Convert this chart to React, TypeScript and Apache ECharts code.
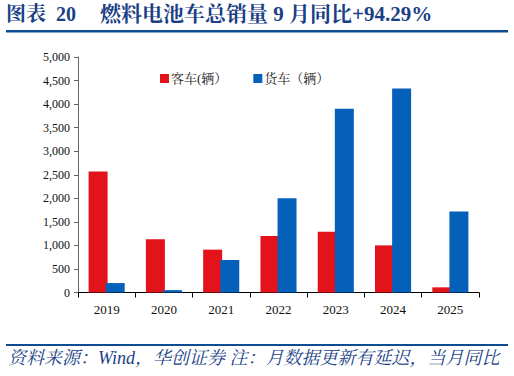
import React, { useEffect, useRef } from "react";
import * as echarts from "echarts";

const categories = ["2019", "2020", "2021", "2022", "2023", "2024", "2025"];
const busValues = [2570, 1130, 910, 1200, 1290, 1000, 110];
const truckValues = [200, 50, 690, 2000, 3900, 4330, 1720];
const seriesNames = ["客车(辆）", "货车（辆）"];
const titleLeft = "图表  20";
const titleRight = "燃料电池车总销量 9 月同比+94.29%";
const footer = "资料来源：Wind，华创证券 注：月数据更新有延迟，当月同比";

const SERIF = "'Times New Roman', 'Liberation Serif', 'Noto Serif CJK SC', 'Noto Sans CJK SC', serif";
const NAVY = "#1A3F86";

export default function App() {
  const ref = useRef<HTMLDivElement>(null);
  useEffect(() => {
    if (!ref.current) return;
    const chart = echarts.init(ref.current, null, { renderer: "svg" });
    chart.setOption({
      animation: false,
      backgroundColor: "#fff",
      grid: { left: 78, right: 35, top: 57, bottom: 83.5 },
      legend: {
        top: 67,
        left: 155,
        itemWidth: 9,
        itemHeight: 9,
        itemGap: 26,
        icon: "rect",
        textStyle: { fontSize: 13, color: "#222", fontFamily: SERIF, padding: [0, 0, 0, -3] },
        data: seriesNames,
      },
      xAxis: {
        type: "category",
        data: categories,
        axisLine: { lineStyle: { color: "#000", width: 1 } },
        axisTick: { show: true, length: 5, lineStyle: { color: "#000" } },
        axisLabel: { fontSize: 13, color: "#111", fontFamily: SERIF, margin: 10 },
      },
      yAxis: {
        type: "value",
        min: 0,
        max: 5000,
        interval: 500,
        axisLine: { show: true, lineStyle: { color: "#666", width: 1 } },
        axisTick: { show: true, length: 4, lineStyle: { color: "#666" } },
        splitLine: { show: false },
        axisLabel: {
          fontSize: 12,
          color: "#111",
          fontFamily: SERIF,
          margin: 8,
          formatter: (v: number) => v.toLocaleString("en-US"),
        },
      },
      series: [
        {
          name: seriesNames[0],
          type: "bar",
          data: busValues,
          barWidth: 19,
          barGap: "-10%",
          itemStyle: { color: "#E3131C" },
        },
        {
          name: seriesNames[1],
          type: "bar",
          data: truckValues,
          barWidth: 19,
          itemStyle: { color: "#0560BA" },
        },
      ],
      graphic: [
        {
          type: "text",
          left: 6,
          top: 4,
          style: { text: titleLeft, font: `bold 20px ${SERIF}`, fill: NAVY },
        },
        {
          type: "text",
          left: 100,
          top: 3,
          style: { text: titleRight, font: `bold 21px ${SERIF}`, fill: NAVY },
        },
        {
          type: "rect",
          shape: { x: 6, y: 30, width: 502, height: 2.5 },
          style: { fill: "#0E4C92" },
        },
        {
          type: "rect",
          shape: { x: 6, y: 344, width: 502, height: 2 },
          style: { fill: "#0E4C92" },
        },
        {
          type: "text",
          left: 8,
          top: 349,
          style: { text: footer, font: `italic 18px ${SERIF}`, fill: NAVY },
        },
      ],
    });
    return () => chart.dispose();
  }, []);
  return <div ref={ref} style={{ width: 514, height: 376, position: "absolute", left: 0, top: 0 }} />;
}
